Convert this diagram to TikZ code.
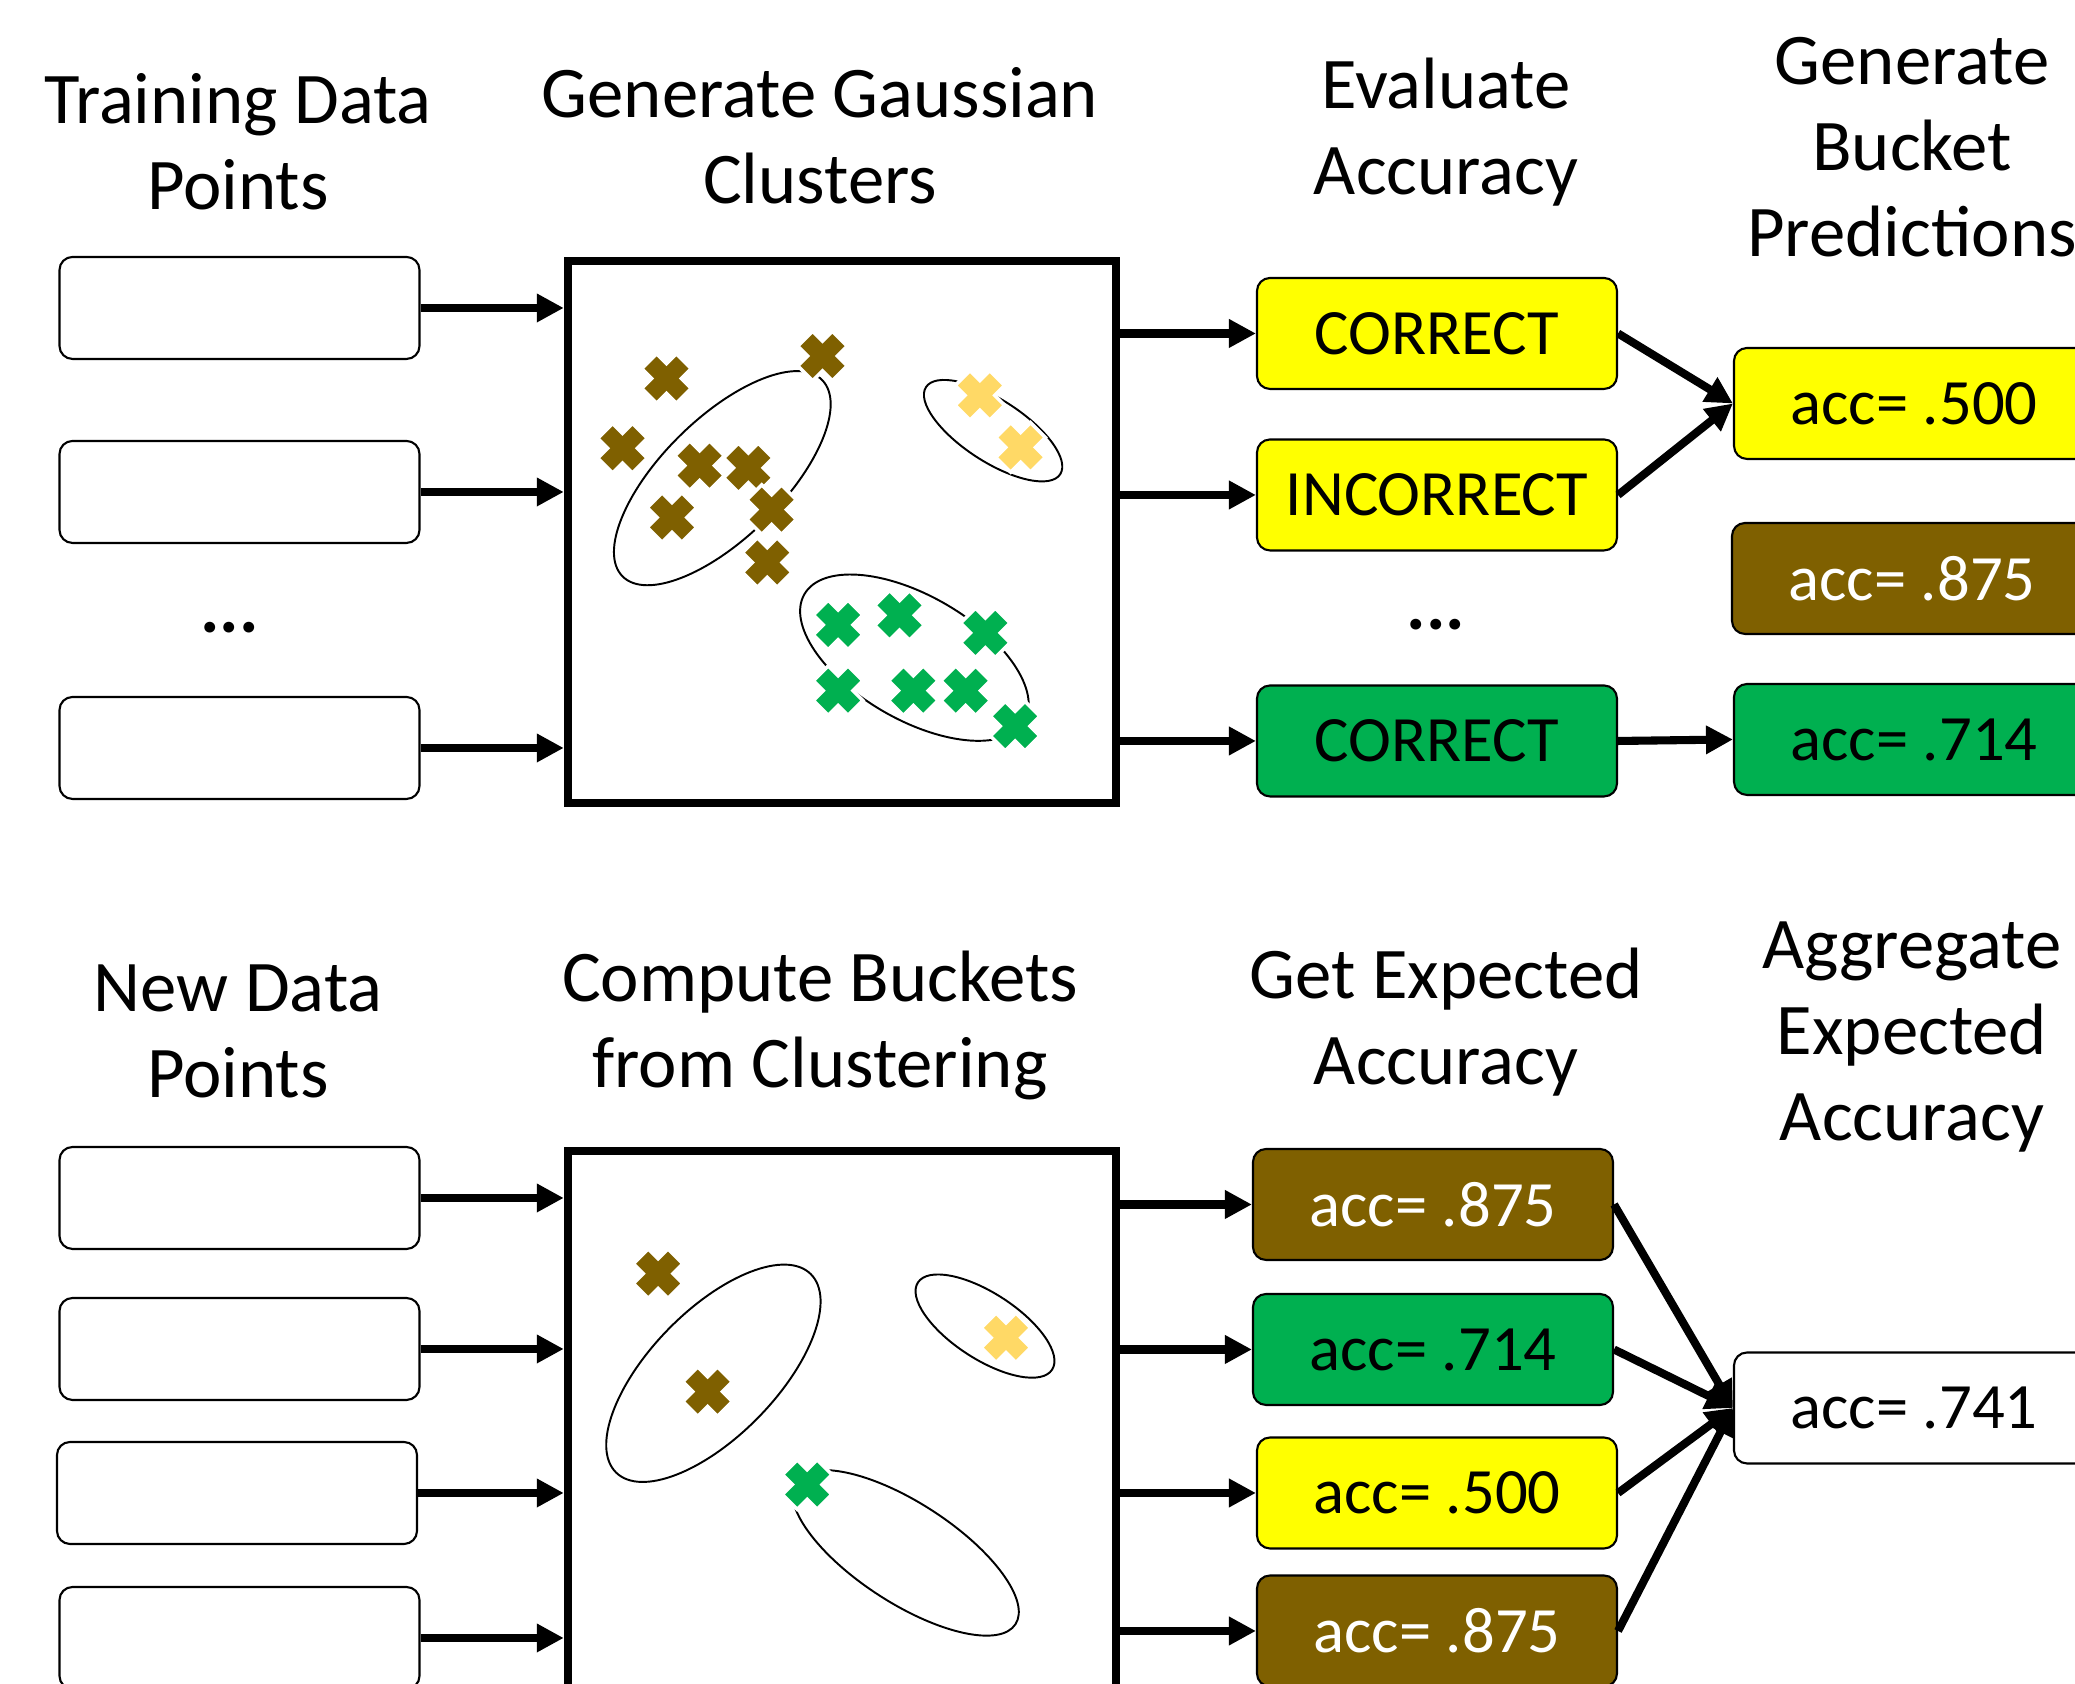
\documentclass[tikz,border=0pt]{standalone}
\usepackage{fontspec}
\setmainfont{Carlito}
\usepackage{tikz}
\usetikzlibrary{arrows.meta,positioning}
\definecolor{brn}{HTML}{7F6000}
\definecolor{grn}{HTML}{00B050}
\definecolor{yel}{HTML}{FFFF00}
\definecolor{lyel}{HTML}{FFD966}

\begin{document}
\begin{tikzpicture}[
  title/.style={align=center, font=\fontsize{20.7}{24.5}\selectfont},
  dots/.style={font=\fontsize{20.7}{24.5}\selectfont\bfseries},
  inbox/.style={draw, rounded corners=0.13cm, minimum width=3.6cm, minimum height=1.02cm, line width=0.6pt},
  accbox/.style={draw, rounded corners=0.13cm, minimum width=3.6cm, minimum height=1.11cm, line width=0.6pt, font=\fontsize{18.4}{22}\selectfont},
  clbox/.style={draw, line width=2.4pt, minimum width=5.48cm, minimum height=5.42cm},
  arr/.style={-{Triangle[length=0.27cm,width=0.27cm]}, line width=2.3pt},
  blob/.style={line width=0.55pt},
  pics/xmark/.style={code={\filldraw[fill=#1, draw=white, line width=1pt, rotate=45] (0.105,0.245)--(0.105,0.105)--(0.245,0.105)--(0.245,-0.105)--(0.105,-0.105)--(0.105,-0.245)--(-0.105,-0.245)--(-0.105,-0.105)--(-0.245,-0.105)--(-0.245,0.105)--(-0.105,0.105)--(-0.105,0.245)--cycle;}}
]
%\draw[help lines](0,0)grid(21,17);
\useasboundingbox (0,0) rectangle (20.75,16.84);
\clip (0,0) rectangle (20.75,16.84);

% training phase
\node[title] (tTrain) at (2.38,15.42) {Training Data\\Points};
\node[title] (tGauss) at (8.20,15.48) {Generate Gaussian\\Clusters};
\node[title] (tEval) at (14.46,15.515) {Evaluate\\Accuracy};
\node[title] (tPred) at (19.12,15.37) {Generate\\Bucket\\Predictions};

\node[inbox] (tr1) at (2.395,13.76) {};
\node[inbox] (tr2) at (2.395,11.92) {};
\node[dots] (trdots) at (2.293,10.56) {...};
\node[inbox] (tr3) at (2.395,9.36) {};

\node[clbox] (clA) at (8.42,11.52) {};
\draw[blob, shift={(7.223,12.058)}, rotate=44.5] (0,0) ellipse [x radius=1.40, y radius=0.60];
\draw[blob, shift={(9.931,12.533)}, rotate=-33] (0,0) ellipse [x radius=0.80, y radius=0.31];
\draw[blob, shift={(9.144,10.263)}, rotate=-30] (0,0) ellipse [x radius=1.27, y radius=0.62];
\foreach \p in {(6.665,13.054),(8.225,13.279),(6.225,12.358),(6.996,12.183),(7.483,12.161),(6.72,11.665),(7.716,11.744),(7.672,11.215)}
  \pic at \p {xmark=brn};
\foreach \p in {(9.799,12.886),(10.206,12.365)}
  \pic at \p {xmark=lyel};
\foreach \p in {(8.381,10.59),(8.995,10.686),(9.853,10.511),(8.381,9.933),(9.133,9.933),(9.657,9.933),(10.151,9.579)}
  \pic at \p {xmark=grn};

\node[accbox, fill=yel] (ev1) at (14.37,13.505) {CORRECT};
\node[accbox, fill=yel] (ev2) at (14.37,11.89) {INCORRECT};
\node[dots] (evdots) at (14.36,10.59) {...};
\node[accbox, fill=grn] (ev3) at (14.37,9.43) {CORRECT};

\node[accbox, fill=yel] (bk1) at (19.14,12.805) {acc= .500};
\node[accbox, fill=brn, text=white] (bk2) at (19.12,11.055) {acc= .875};
\node[accbox, fill=grn] (bk3) at (19.14,9.445) {acc= .714};

\foreach \n in {tr1,tr2,tr3} \draw[arr] (\n.east) -- (\n.east -| clA.west);
\foreach \n in {ev1,ev2,ev3} \draw[arr] (clA.east |- \n.west) -- (\n.west);
\draw[arr] (ev1.east) -- (bk1.west);
\draw[arr] (ev2.east) -- (bk1.west);
\draw[arr] (ev3.east) -- (bk3.west);

% prediction phase
\node[title] (tNew) at (2.38,6.525) {New Data\\Points};
\node[title] (tComp) at (8.20,6.585) {Compute Buckets\\from Clustering};
\node[title] (tExp) at (14.46,6.62) {Get Expected\\Accuracy};
\node[title] (tAgg) at (19.12,6.47) {Aggregate\\Expected\\Accuracy};

\node[inbox] (nw1) at (2.395,4.86) {};
\node[inbox] (nw2) at (2.395,3.35) {};
\node[inbox] (nw3) at (2.37,1.91) {};
\node[inbox] (nw4) at (2.395,0.46) {};

\node[clbox, minimum height=5.9cm] (clB) at (8.42,2.38) {};
\draw[blob, shift={(7.134,3.107)}, rotate=45.6] (0,0) ellipse [x radius=1.39, y radius=0.63];
\draw[blob, shift={(9.85,3.579)}, rotate=-33] (0,0) ellipse [x radius=0.80, y radius=0.33];
\draw[blob, shift={(9.056,1.311)}, rotate=-33] (0,0) ellipse [x radius=1.31, y radius=0.50];
\foreach \p in {(6.581,4.104),(7.076,2.924)}
  \pic at \p {xmark=brn};
\pic at (10.06,3.462) {xmark=lyel};
\pic at (8.072,1.994) {xmark=grn};

\node[accbox, fill=brn, text=white] (ex1) at (14.33,4.795) {acc= .875};
\node[accbox, fill=grn] (ex2) at (14.33,3.345) {acc= .714};
\node[accbox, fill=yel] (ex3) at (14.37,1.91) {acc= .500};
\node[accbox, fill=brn, text=white] (ex4) at (14.37,0.53) {acc= .875};
\node[accbox] (agg) at (19.14,2.76) {acc= .741};

\foreach \n in {nw1,nw2,nw3,nw4} \draw[arr] (\n.east) -- (\n.east -| clB.west);
\foreach \n in {ex1,ex2,ex3,ex4} \draw[arr] (clB.east |- \n.west) -- (\n.west);
\foreach \n in {ex1,ex2,ex3,ex4} \draw[arr] (\n.east) -- (agg.west);
\end{tikzpicture}
\end{document}
